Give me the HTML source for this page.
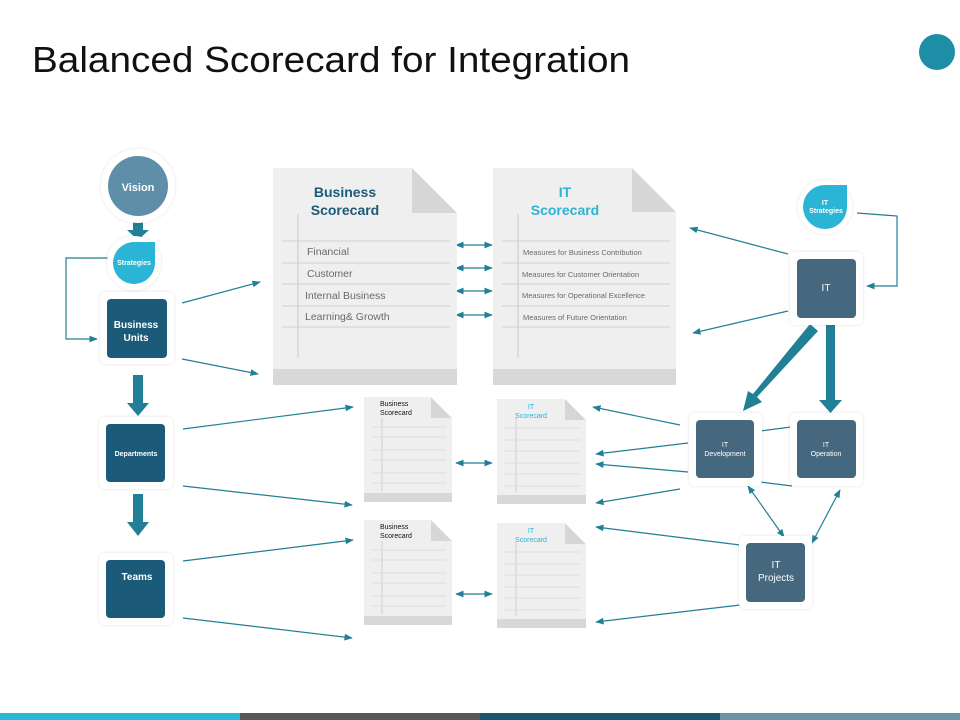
<!DOCTYPE html>
<html><head><meta charset="utf-8"><style>
html,body{margin:0;padding:0;background:#fff;}
svg{display:block;font-family:"Liberation Sans",sans-serif;}
</style></head><body>
<svg width="960" height="720" viewBox="0 0 960 720" xmlns="http://www.w3.org/2000/svg">
<defs>
<marker id="a" viewBox="0 0 10 10" refX="9" refY="5" markerWidth="7" markerHeight="7" orient="auto-start-reverse"><path d="M0,1 L10,5 L0,9 z" fill="#217f96"/></marker>
<filter id="sh" x="-20%" y="-20%" width="140%" height="140%"><feDropShadow dx="0" dy="0" stdDeviation="1.5" flood-color="#000" flood-opacity="0.12"/></filter>
</defs>
<text x="32" y="72" font-size="36" fill="#111" textLength="598" lengthAdjust="spacingAndGlyphs">Balanced Scorecard for Integration</text>
<circle cx="937" cy="52" r="18" fill="#1e8ea6"/>
<rect x="0" y="713" width="240" height="7" fill="#2bb8d6"/>
<rect x="240" y="713" width="240" height="7" fill="#575757"/>
<rect x="480" y="713" width="240" height="7" fill="#1b5570"/>
<rect x="720" y="713" width="240" height="7" fill="#6b93a6"/>

<g stroke="#217f96" stroke-width="1.2" fill="none">
<!-- left -->
<polyline points="110,258 66,258 66,339 97,339" marker-end="url(#a)"/>
<line x1="182" y1="303" x2="260" y2="282" marker-end="url(#a)"/>
<line x1="182" y1="359" x2="258" y2="374" marker-end="url(#a)"/>
<line x1="183" y1="429" x2="353" y2="407" marker-end="url(#a)"/>
<line x1="183" y1="486" x2="352" y2="505" marker-end="url(#a)"/>
<line x1="183" y1="561" x2="353" y2="540" marker-end="url(#a)"/>
<line x1="183" y1="618" x2="352" y2="638" marker-end="url(#a)"/>
<!-- double -->
<line x1="456" y1="245" x2="492" y2="245" marker-start="url(#a)" marker-end="url(#a)"/>
<line x1="456" y1="268" x2="492" y2="268" marker-start="url(#a)" marker-end="url(#a)"/>
<line x1="456" y1="291" x2="492" y2="291" marker-start="url(#a)" marker-end="url(#a)"/>
<line x1="456" y1="315" x2="492" y2="315" marker-start="url(#a)" marker-end="url(#a)"/>
<line x1="456" y1="463" x2="492" y2="463" marker-start="url(#a)" marker-end="url(#a)"/>
<line x1="456" y1="594" x2="492" y2="594" marker-start="url(#a)" marker-end="url(#a)"/>
<!-- right -->
<polyline points="857,213 897,216 897,286 867,286" marker-end="url(#a)"/>
<line x1="788" y1="254" x2="690" y2="228" marker-end="url(#a)"/>
<line x1="788" y1="311" x2="693" y2="333" marker-end="url(#a)"/>
<line x1="680" y1="425" x2="593" y2="407" marker-end="url(#a)"/>
<line x1="688" y1="443" x2="596" y2="454" marker-end="url(#a)"/>
<line x1="688" y1="472" x2="596" y2="464" marker-end="url(#a)"/>
<line x1="680" y1="489" x2="596" y2="503" marker-end="url(#a)"/>
<line x1="760" y1="431" x2="791" y2="427"/>
<line x1="760" y1="482" x2="792" y2="486"/>
<line x1="748" y1="486" x2="784" y2="537" marker-start="url(#a)" marker-end="url(#a)"/>
<line x1="840" y1="490" x2="812" y2="543" marker-start="url(#a)" marker-end="url(#a)"/>
<line x1="740" y1="545" x2="596" y2="527" marker-end="url(#a)"/>
<line x1="740" y1="605" x2="596" y2="622" marker-end="url(#a)"/>
</g>

<!-- thick arrows -->
<g fill="#217f96">
<polygon points="133,222 143,222 143,230 149,230 138,240 127,230 133,230"/>
<polygon points="133,375 143,375 143,403 149,403 138,416 127,403 133,403"/>
<polygon points="133,494 143,494 143,522 149,522 138,536 127,522 133,522"/>
<polygon points="826,323 835,323 835,400 842,400 830.5,413 819,400 826,400"/>
<polygon points="810,324 818,331 757,397 762,402 743,411 748,391 753,394"/>
</g>

<!-- left nodes -->
<circle cx="138" cy="186" r="37" fill="#fff" filter="url(#sh)"/>
<circle cx="138" cy="186" r="30" fill="#5f8ea8"/>
<text x="138" y="191" font-size="11" font-weight="bold" fill="#fff" text-anchor="middle">Vision</text>
<circle cx="134" cy="263" r="27" fill="#fff" filter="url(#sh)"/>
<path d="M155,242 L155,263 A21,21 0 1 1 134,242 Z" fill="#2ab4d6"/>
<text x="134" y="265" font-size="7" font-weight="bold" fill="#fff" text-anchor="middle">Strategies</text>
<rect x="100" y="292" width="74" height="72" rx="6" fill="#fff" filter="url(#sh)"/>
<rect x="107" y="299" width="60" height="59" rx="4" fill="#1b5a78"/>
<text x="136" y="328" font-size="10" font-weight="bold" fill="#fff" text-anchor="middle">Business</text>
<text x="136" y="341" font-size="10" font-weight="bold" fill="#fff" text-anchor="middle">Units</text>
<rect x="99" y="417" width="74" height="72" rx="6" fill="#fff" filter="url(#sh)"/>
<rect x="106" y="424" width="59" height="58" rx="4" fill="#1b5a78"/>
<text x="136" y="456" font-size="7" font-weight="bold" fill="#fff" text-anchor="middle">Departments</text>
<rect x="99" y="553" width="74" height="72" rx="6" fill="#fff" filter="url(#sh)"/>
<rect x="106" y="560" width="59" height="58" rx="4" fill="#1b5a78"/>
<text x="137" y="580" font-size="10" font-weight="bold" fill="#fff" text-anchor="middle">Teams</text>

<!-- big docs -->
<g>
<rect x="273" y="168" width="184" height="217" fill="#efefef"/>
<rect x="273" y="369" width="184" height="16" fill="#d8d8d8"/>
<polygon points="412,168 457,213 412,213" fill="#d6d6d6"/>
<polygon points="412,168 457,168 457,213" fill="#fff"/>
<line x1="298" y1="214" x2="298" y2="358" stroke="#c8c8c8"/>
<g stroke="#d2d2d2"><line x1="282" y1="241" x2="450" y2="241"/><line x1="282" y1="263" x2="450" y2="263"/><line x1="282" y1="284" x2="450" y2="284"/><line x1="282" y1="306" x2="450" y2="306"/><line x1="282" y1="327" x2="450" y2="327"/></g>
<text x="345" y="197" font-size="14" font-weight="bold" fill="#1b5a78" text-anchor="middle">Business</text>
<text x="345" y="215" font-size="14" font-weight="bold" fill="#1b5a78" text-anchor="middle">Scorecard</text>
<g font-size="10.5" fill="#6a6a6a"><text x="307" y="255">Financial</text><text x="307" y="277">Customer</text><text x="305" y="299">Internal Business</text><text x="305" y="320">Learning&amp; Growth</text></g>

<rect x="493" y="168" width="183" height="217" fill="#efefef"/>
<rect x="493" y="369" width="183" height="16" fill="#d8d8d8"/>
<polygon points="632,168 676,212 632,212" fill="#d6d6d6"/>
<polygon points="632,168 676,168 676,212" fill="#fff"/>
<line x1="518" y1="214" x2="518" y2="358" stroke="#c8c8c8"/>
<g stroke="#d2d2d2"><line x1="502" y1="241" x2="670" y2="241"/><line x1="502" y1="263" x2="670" y2="263"/><line x1="502" y1="284" x2="670" y2="284"/><line x1="502" y1="306" x2="670" y2="306"/><line x1="502" y1="327" x2="670" y2="327"/></g>
<text x="565" y="197" font-size="14" font-weight="bold" fill="#2ab4d6" text-anchor="middle">IT</text>
<text x="565" y="215" font-size="14" font-weight="bold" fill="#2ab4d6" text-anchor="middle">Scorecard</text>
<g font-size="7.5" fill="#6a6a6a"><text x="523" y="255">Measures  for Business  Contribution</text><text x="522" y="277">Measures  for Customer Orientation</text><text x="522" y="298">Measures  for Operational  Excellence</text><text x="523" y="320">Measures  of Future Orientation</text></g>
</g>

<!-- small docs -->
<g id="sb">
<rect x="364" y="397" width="88" height="105" fill="#efefef"/>
<rect x="364" y="493" width="88" height="9" fill="#d8d8d8"/>
<polygon points="431,397 452,418 431,418" fill="#d6d6d6"/>
<polygon points="431,397 452,397 452,418" fill="#fff"/>
<line x1="382" y1="418" x2="382" y2="491" stroke="#cfcfcf"/>
<g stroke="#dcdcdc"><line x1="372" y1="427" x2="446" y2="427"/><line x1="372" y1="437" x2="446" y2="437"/><line x1="372" y1="450" x2="446" y2="450"/><line x1="372" y1="460" x2="446" y2="460"/><line x1="372" y1="473" x2="446" y2="473"/><line x1="372" y1="483" x2="446" y2="483"/></g>
<text x="380" y="406" font-size="7" fill="#111">Business</text>
<text x="380" y="415" font-size="7" fill="#111">Scorecard</text>
</g>
<use href="#sb" x="0" y="123"/>
<g id="si">
<rect x="497" y="399" width="89" height="105" fill="#efefef"/>
<rect x="497" y="495" width="89" height="9" fill="#d8d8d8"/>
<polygon points="565,399 586,420 565,420" fill="#d6d6d6"/>
<polygon points="565,399 586,399 586,420" fill="#fff"/>
<line x1="516" y1="418" x2="516" y2="492" stroke="#cfcfcf"/>
<g stroke="#dcdcdc"><line x1="505" y1="428" x2="580" y2="428"/><line x1="505" y1="440" x2="580" y2="440"/><line x1="505" y1="451" x2="580" y2="451"/><line x1="505" y1="463" x2="580" y2="463"/><line x1="505" y1="474" x2="580" y2="474"/><line x1="505" y1="486" x2="580" y2="486"/></g>
<text x="531" y="409" font-size="7" fill="#2ab4d6" text-anchor="middle">IT</text>
<text x="531" y="418" font-size="7" fill="#2ab4d6" text-anchor="middle">Scorecard</text>
</g>
<use href="#si" x="0" y="124"/>

<!-- right nodes -->
<circle cx="825" cy="207" r="27" fill="#fff" filter="url(#sh)"/>
<path d="M847,185 L847,207 A22,22 0 1 1 825,185 Z" fill="#2ab4d6"/>
<text x="825" y="205" font-size="7" font-weight="bold" fill="#fff" text-anchor="middle">IT</text>
<text x="826" y="213" font-size="7" font-weight="bold" fill="#fff" text-anchor="middle">Strategies</text>
<rect x="790" y="252" width="73" height="73" rx="6" fill="#fff" filter="url(#sh)"/>
<rect x="797" y="259" width="59" height="59" rx="4" fill="#46687e"/>
<text x="826" y="291" font-size="10" fill="#fff" text-anchor="middle">IT</text>
<rect x="689" y="413" width="73" height="73" rx="6" fill="#fff" filter="url(#sh)"/>
<rect x="696" y="420" width="58" height="58" rx="4" fill="#46687e"/>
<text x="725" y="447" font-size="7" fill="#fff" text-anchor="middle">IT</text>
<text x="725" y="456" font-size="7" fill="#fff" text-anchor="middle">Development</text>
<rect x="790" y="413" width="73" height="73" rx="6" fill="#fff" filter="url(#sh)"/>
<rect x="797" y="420" width="59" height="58" rx="4" fill="#46687e"/>
<text x="826" y="447" font-size="7" fill="#fff" text-anchor="middle">IT</text>
<text x="826" y="456" font-size="7" fill="#fff" text-anchor="middle">Operation</text>
<rect x="739" y="536" width="73" height="73" rx="6" fill="#fff" filter="url(#sh)"/>
<rect x="746" y="543" width="59" height="59" rx="4" fill="#46687e"/>
<text x="776" y="568" font-size="10" fill="#fff" text-anchor="middle">IT</text>
<text x="776" y="581" font-size="10" fill="#fff" text-anchor="middle">Projects</text>
</svg>
</body></html>
